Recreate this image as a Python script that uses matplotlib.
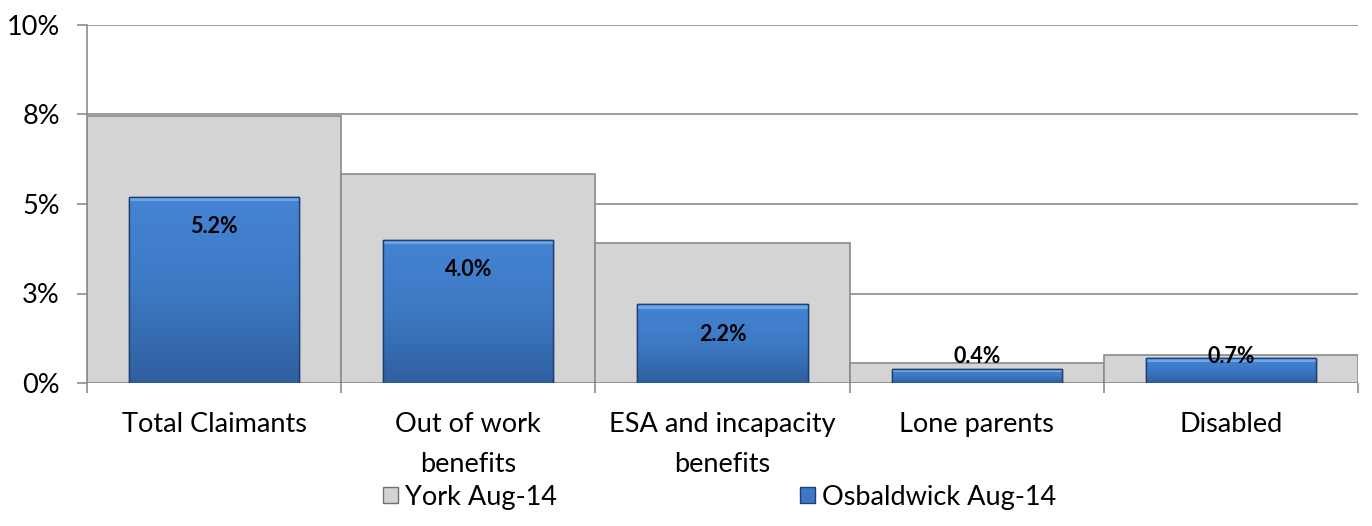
import matplotlib
matplotlib.use("Agg")
import matplotlib.pyplot as plt
import numpy as np
from matplotlib.patches import Patch
from matplotlib.colors import LinearSegmentedColormap

plt.rcParams['font.family'] = ['Lato', 'DejaVu Sans']

categories = ["Total Claimants", "Out of work\nbenefits", "ESA and incapacity\nbenefits", "Lone parents", "Disabled"]
york = [7.45, 5.85, 3.9, 0.55, 0.78]
osbaldwick = [5.2, 4.0, 2.2, 0.4, 0.7]
osb_labels = ["5.2%", "4.0%", "2.2%", "0.4%", "0.7%"]
yticks = [0, 2.5, 5, 7.5, 10]
ytick_labels = ["0%", "3%", "5%", "8%", "10%"]
series_names = ["York Aug-14", "Osbaldwick Aug-14"]

fig = plt.figure(figsize=(13.72, 5.26), dpi=100)
ax = fig.add_axes([87/1372, 1-383/526, (1358-87)/1372, (383-25)/526])

x = np.arange(len(categories))
grid_c = "#8c8c8c"
ax.set_axisbelow(True)
for yt in yticks:
    ax.axhline(yt, color=grid_c, lw=1.2, zorder=0)

ax.bar(x, york, width=1.0, color="#d4d4d4", edgecolor="#8a8a8a", linewidth=1.2, zorder=1)
bars = ax.bar(x, osbaldwick, width=0.67, color="#3b78c6", edgecolor="#1f3f70", linewidth=1.0, zorder=2)

cmap = LinearSegmentedColormap.from_list("b", ["#2f5f9f", "#3d79c4", "#4584d4"])
grad = np.linspace(0, 1, 256).reshape(-1, 1)
for b in bars:
    bx, by, bw, bh = b.get_x(), b.get_y(), b.get_width(), b.get_height()
    im = ax.imshow(grad, cmap=cmap, origin="lower", aspect="auto",
                   extent=[bx, bx + bw, by, by + bh], zorder=2.1)
    im.set_clip_path(b)
    hl = min(0.12, bh * 0.25)
    ax.fill_between([bx, bx + bw], by + bh - hl, by + bh, color="#6aa6ea", zorder=2.2, lw=0)
    ax.bar(bx + bw / 2, bh, width=bw, bottom=by, fill=False, edgecolor="#1f3f70", linewidth=1.0, zorder=2.3)

for xi, v, lab in zip(x, osbaldwick, osb_labels):
    ypos = max(v - 0.84, 0.73)
    ax.text(xi, ypos, lab, ha="center", va="center", fontsize=15.5, fontweight="bold", color="black", zorder=5)

ax.set_xlim(-0.5, len(categories) - 0.5)
ax.set_ylim(0, 10)
ax.set_yticks(yticks)
ax.set_yticklabels(ytick_labels, fontsize=19.5)
ax.set_xticks(np.arange(-0.5, len(categories)), minor=False)
ax.set_xticklabels([])
ax.set_xticks(x, minor=True)
ax.set_xticklabels(categories, minor=True, fontsize=19.5, linespacing=1.75)
ax.tick_params(axis="x", which="major", length=7.5, color=grid_c, width=1.2)
ax.tick_params(axis="x", which="minor", length=0, pad=21)
ax.tick_params(axis="y", length=7.5, color=grid_c, width=1.2, pad=12)
for s in ["top", "right", "bottom"]:
    ax.spines[s].set_visible(False)
ax.spines["left"].set_color(grid_c)
ax.spines["left"].set_linewidth(1.2)

handles = [Patch(facecolor="#d4d4d4", edgecolor="#707070", label=series_names[0]),
           Patch(facecolor="#3b78c6", edgecolor="#1f3f70", label=series_names[1])]
for h, xl in zip(handles, [383/1372, 800/1372]):
    leg = fig.legend(handles=[h], loc="center left", bbox_to_anchor=(xl, 1 - 497/526),
                     frameon=False, fontsize=19.5, handlelength=0.55, handleheight=0.55,
                     handletextpad=0.25, borderpad=0, borderaxespad=0)

fig.savefig("out.png", dpi=100)
